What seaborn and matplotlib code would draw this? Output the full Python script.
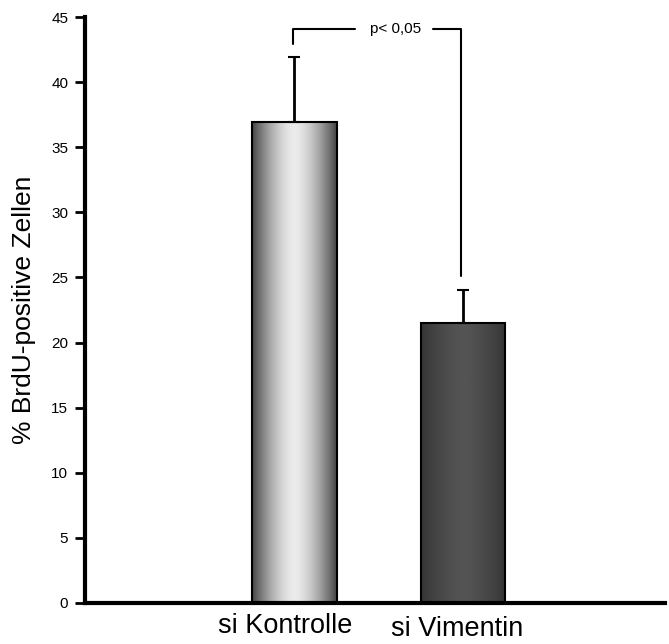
import numpy as np
import pandas as pd
import matplotlib
matplotlib.use("Agg")
import matplotlib.pyplot as plt
import seaborn as sns
from matplotlib.transforms import ScaledTranslation

categories = ["si Kontrolle", "si Vimentin"]
values = [36.9, 21.5]
errors = [5.0, 2.5]
yticks = [0, 5, 10, 15, 20, 25, 30, 35, 40, 45]
ptext = "p< 0,05"

sns.set_style("white")
plt.rcParams["font.family"] = ["Liberation Sans", "DejaVu Sans"]
plt.rcParams["text.color"] = "black"
plt.rcParams["axes.labelcolor"] = "black"
plt.rcParams["xtick.color"] = "black"
plt.rcParams["ytick.color"] = "black"

df = pd.DataFrame({"cat": categories, "val": values})
fig = plt.figure(figsize=(6.69, 6.44), dpi=100)
ax = fig.add_axes([0.127, 0.0637, 0.867, 0.9099])
sns.barplot(data=df, x="cat", y="val", ax=ax, width=0.5, color="white",
            edgecolor="black", linewidth=1.5, errorbar=None, zorder=2)

# gradient fills clipped to the bars
grad1 = np.abs(np.linspace(-1, 1, 200))
g1 = 0.92 - 0.65 * grad1 ** 1.6
g2 = 0.33 - 0.12 * grad1 ** 1.5
for patch, g in zip(ax.patches, [g1, g2]):
    x0, y0 = patch.get_x(), patch.get_y()
    w, h = patch.get_width(), patch.get_height()
    img = ax.imshow(g[np.newaxis, :], cmap="gray", vmin=0, vmax=1, aspect="auto",
                    extent=[x0, x0 + w, y0, y0 + h], zorder=2.5, interpolation="bilinear")
    img.set_clip_path(patch)
    patch.set_zorder(3)
    patch.set_facecolor("none")

# upward-only error bars
xs = np.arange(len(categories))
ax.errorbar(xs, values, yerr=[np.zeros(len(values)), errors], fmt="none",
            ecolor="black", elinewidth=2, capsize=4, capthick=1.5, zorder=4)

# significance bracket
ax.plot([-0.01, -0.01, 0.36], [42.9, 44.1, 44.1], color="black", lw=1.5, clip_on=False)
ax.plot([0.82, 0.99, 0.99], [44.1, 44.1, 25.1], color="black", lw=1.5, clip_on=False)
ax.text(0.6, 44.1, ptext, ha="center", va="center", fontsize=11, color="black")

ax.set_xlim(-1.243, 2.199)
ax.set_ylim(0, 45)
ax.set_yticks(yticks)
ax.set_yticklabels([str(t) for t in yticks], fontsize=11)
ax.set_xticks(xs)
ax.set_xticklabels(categories, fontsize=19.5)
ax.set_xlabel("")
ax.set_ylabel("% BrdU-positive Zellen", fontsize=19, labelpad=11, color="black")

for s in ["top", "right"]:
    ax.spines[s].set_visible(False)
for s in ["left", "bottom"]:
    ax.spines[s].set_linewidth(3)
    ax.spines[s].set_color("black")
ax.tick_params(axis="y", which="major", direction="out", length=7, width=2, left=True, pad=5,
               colors="black")
ax.tick_params(axis="x", length=0, pad=7, colors="black")

lbls = ax.get_xticklabels()
lbls[0].set_transform(lbls[0].get_transform() + ScaledTranslation(-9 / 100, 0, fig.dpi_scale_trans))
lbls[1].set_transform(lbls[1].get_transform() + ScaledTranslation(-6 / 100, -3 / 100, fig.dpi_scale_trans))

fig.savefig("out.png", dpi=100)
